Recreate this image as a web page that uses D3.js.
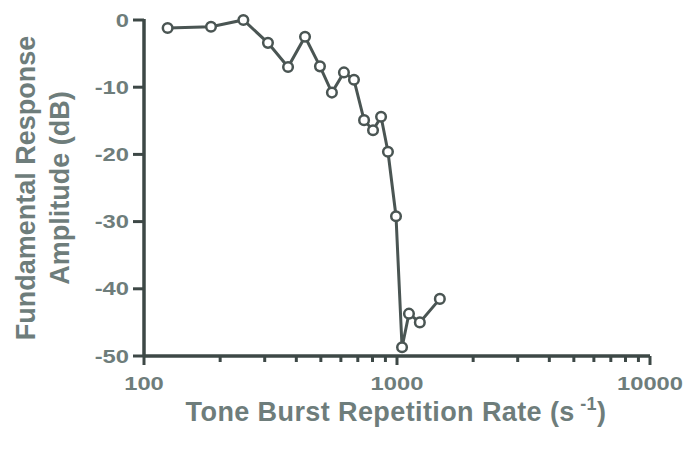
<!DOCTYPE html>
<html>
  <head>
    <meta charset="utf-8" />
    <title>tone burst</title>
    <script src="https://cdn.jsdelivr.net/npm/d3@7"></script>
    <style type="text/css">
      body { margin: 0; background: #fff; }
      text { font-family: "Liberation Sans", Arial, sans-serif; font-weight: bold; fill: #6e7d7b; }
    </style>
  </head>
  <body>
    <svg id="chart" width="684" height="450"></svg>
    <script type="text/javascript">
      // repetition rate (s^-1) and fundamental response (dB)
      var rates = [124, 184, 247, 309, 371, 433, 496, 553, 617, 676, 741, 804, 865, 921, 991, 1047, 1115, 1231, 1477];
      var amps = [-1.2, -1.0, 0, -3.4, -7.0, -2.5, -6.9, -10.8, -7.8, -8.9, -14.9, -16.4, -14.4, -19.6, -29.2, -48.7, -43.7, -45.0, -41.5];
      var yTicks = [0, -10, -20, -30, -40, -50];
      var xTicks = [100, 1000, 10000];

      var svg = d3.select('#chart');
      var axisColor = '#3d4846';
      var sx = 1.25; // labels in the source are a bit wide

      var x = d3.scaleLog().domain([100, 10000]).range([144, 650]);
      var y = d3.scaleLinear().domain([-50, 0]).range([356, 20]);

      // minor ticks 200..900, 2000..9000
      var minor = [];
      [100, 1000].forEach(function (b) {
        for (var k = 2; k <= 9; k++) minor.push(b * k);
      });

      // axes
      var gx = svg.append('g').attr('transform', 'translate(0,' + y(-50) + ')');
      gx.append('line').attr('x1', x(100)).attr('x2', x(10000))
        .attr('stroke', axisColor).attr('stroke-width', 3.5);
      gx.selectAll('.mn').data(minor).enter().append('line')
        .attr('x1', (d) => x(d)).attr('x2', (d) => x(d))
        .attr('y1', 0).attr('y2', 6)
        .attr('stroke', axisColor).attr('stroke-width', 3);
      gx.selectAll('.mj').data(xTicks).enter().append('line')
        .attr('x1', (d) => x(d)).attr('x2', (d) => x(d))
        .attr('y1', 0).attr('y2', 9)
        .attr('stroke', axisColor).attr('stroke-width', 3);
      gx.selectAll('.xl').data(xTicks).enter().append('text')
        .attr('transform', (d) => 'translate(' + x(d) + ',34) scale(' + sx + ',1)')
        .attr('text-anchor', 'middle').attr('font-size', 19)
        .text((d) => d);

      var gy = svg.append('g').attr('transform', 'translate(' + x(100) + ',0)');
      gy.append('line').attr('y1', y(0) - 1).attr('y2', y(-50))
        .attr('stroke', axisColor).attr('stroke-width', 3.5);
      gy.selectAll('.yt').data(yTicks).enter().append('line')
        .attr('x1', -11).attr('x2', 0)
        .attr('y1', (d) => y(d)).attr('y2', (d) => y(d))
        .attr('stroke', axisColor).attr('stroke-width', 3);
      gy.selectAll('.yl').data(yTicks).enter().append('text')
        .attr('transform', (d) => 'translate(-15,' + y(d) + ') scale(' + sx + ',1)')
        .attr('dy', '0.35em')
        .attr('text-anchor', 'end').attr('font-size', 19)
        .text((d) => d);

      // data
      var pts = rates.map((r, i) => [r, amps[i]]);
      var line = d3.line().x((d) => x(d[0])).y((d) => y(d[1]));
      svg.append('path').datum(pts).attr('d', line)
        .attr('fill', 'none').attr('stroke', '#4a5553').attr('stroke-width', 3);
      svg.selectAll('circle').data(pts).enter().append('circle')
        .attr('cx', (d) => x(d[0])).attr('cy', (d) => y(d[1])).attr('r', 4.8)
        .attr('fill', '#fff').attr('stroke', '#4a5553').attr('stroke-width', 2.5);

      // titles
      var xt = svg.append('text').attr('x', 396).attr('y', 421)
        .attr('text-anchor', 'middle').attr('font-size', 27).attr('letter-spacing', 0.4);
      xt.append('tspan').text('Tone Burst Repetition Rate (s');
      xt.append('tspan').attr('dy', -11).attr('font-size', 18).text(' -1');
      xt.append('tspan').attr('dy', 11).text(')');

      var yt = svg.append('g').attr('transform', 'translate(35,188) rotate(-90)');
      yt.append('text').attr('text-anchor', 'middle').attr('font-size', 27).text('Fundamental Response');
      yt.append('text').attr('y', 34).attr('text-anchor', 'middle').attr('font-size', 27).text('Amplitude (dB)');
    </script>
  </body>
</html>
